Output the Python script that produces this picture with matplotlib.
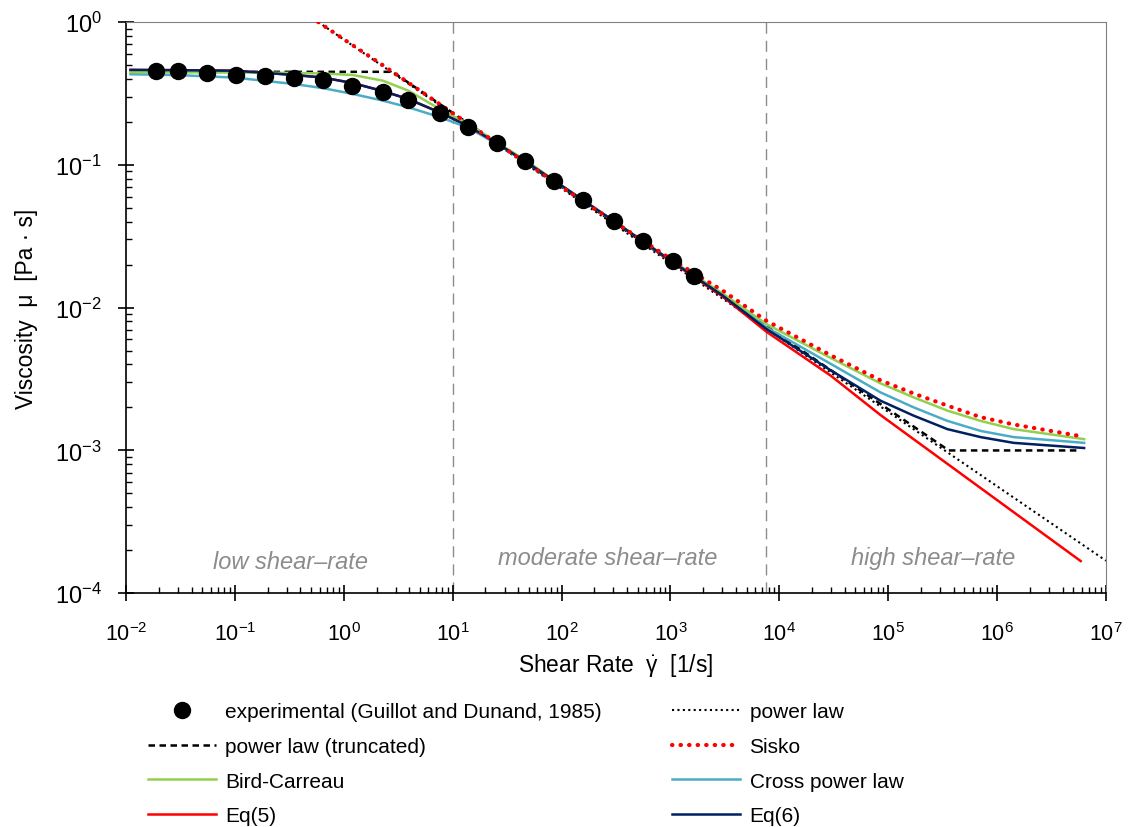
import numpy as np
import matplotlib
matplotlib.use('Agg')
import matplotlib.pyplot as plt
from matplotlib.ticker import LogLocator, NullFormatter, FixedLocator

plt.rcParams['font.family'] = ['Liberation Sans', 'DejaVu Sans']
plt.rcParams['mathtext.fontset'] = 'custom'
plt.rcParams['mathtext.rm'] = 'Liberation Sans'
plt.rcParams['mathtext.it'] = 'Liberation Sans'

# experimental data (Guillot and Dunand, 1985)
exp_rate = [0.019, 0.030, 0.0556, 0.103, 0.189, 0.349, 0.649, 1.20, 2.27, 3.90,
            7.63, 13.9, 25.4, 46.1, 85.5, 159, 305, 563, 1054, 1652]
exp_visc = [0.456, 0.456, 0.442, 0.428, 0.419, 0.404, 0.393, 0.358, 0.322, 0.286,
            0.230, 0.184, 0.142, 0.107, 0.0773, 0.0566, 0.0406, 0.0291, 0.0212, 0.0167]

# model curves
model_rate = [0.011, 0.03, 0.1, 0.35, 0.65, 1.2, 2.27, 3.9, 7.6, 13.9, 25, 50, 100,
              300, 1000, 3000, 7620, 2.95e4, 8.5e4, 1.72e5, 3.5e5, 7.06e5, 1.42e6, 6.3e6]
eq6_visc = [0.462, 0.460, 0.456, 0.426, 0.408, 0.374, 0.329, 0.289, 0.233, 0.187, 0.143,
            0.102, 0.0715, 0.0405, 0.0214, 0.0122, 7.08e-3, 3.65e-3, 2.23e-3, 1.75e-3,
            1.41e-3, 1.24e-3, 1.13e-3, 1.04e-3]
cross_visc = [0.431, 0.425, 0.408, 0.368, 0.344, 0.314, 0.282, 0.253, 0.216, 0.182, 0.141,
              0.102, 0.0715, 0.0405, 0.0215, 0.0124, 7.28e-3, 4.05e-3, 2.55e-3, 2.0e-3,
              1.61e-3, 1.37e-3, 1.24e-3, 1.13e-3]
bc_visc = [0.445, 0.445, 0.443, 0.440, 0.436, 0.426, 0.389, 0.331, 0.246, 0.194, 0.145,
           0.104, 0.0715, 0.0405, 0.0216, 0.0126, 7.67e-3, 4.45e-3, 2.95e-3, 2.35e-3,
           1.90e-3, 1.61e-3, 1.41e-3, 1.20e-3]

eq5_rate = [0.011, 0.03, 0.1, 0.35, 0.65, 1.2, 2.27, 3.9, 7.6, 13.9, 25, 50, 100,
            300, 1000, 3000, 7620, 2.95e4, 8.5e4, 5.86e6]
eq5_visc = [0.462, 0.460, 0.456, 0.426, 0.408, 0.374, 0.329, 0.289, 0.233, 0.187, 0.143,
            0.102, 0.0715, 0.0405, 0.0212, 0.0120, 6.78e-3, 3.35e-3, 1.77e-3, 1.68e-4]

sisko_rate = [0.582, 1.2, 2.27, 3.9, 7.6, 13.9, 25, 50, 100, 300, 1000, 3000, 7620,
              2.95e4, 8.5e4, 1.72e5, 3.5e5, 7.06e5, 1.42e6, 5.5e6]
sisko_visc = [1.0, 0.69, 0.50, 0.377, 0.266, 0.194, 0.143, 0.100, 0.070, 0.0402,
              0.0220, 0.0132, 8.09e-3, 4.65e-3, 3.1e-3, 2.5e-3, 2.06e-3, 1.71e-3,
              1.52e-3, 1.27e-3]

pl_rate = [0.582, 1e7]
pl_visc = [1.0, 1.69e-4]

trunc_rate = [0.011, 2.8, 3.6e5, 5.66e6]
trunc_visc = [0.448, 0.448, 1e-3, 1e-3]

region_bounds = [10, 7500]
region_names = ['low shear\u2013rate', 'moderate shear\u2013rate', 'high shear\u2013rate']
region_x = [0.321, 264, 2.56e5]
region_y = [1.5e-4, 1.6e-4, 1.6e-4]

x_ticks = [1e-2, 1e-1, 1e0, 1e1, 1e2, 1e3, 1e4, 1e5, 1e6, 1e7]
y_ticks = [1e-4, 1e-3, 1e-2, 1e-1, 1e0]

fig = plt.figure(figsize=(11.29, 8.28), dpi=100)
ax = fig.add_axes([0.1116, 0.2823, 0.868, 0.6899])

for xb in region_bounds:
    ax.axvline(xb, color='#8c8c8c', lw=1.0, ls=(0, (8, 5)), zorder=1)

l_pl, = ax.plot(pl_rate, pl_visc, color='black', lw=1.5, ls=(0, (1, 1.6)), zorder=2)
l_plt, = ax.plot(trunc_rate, trunc_visc, color='black', lw=1.8, ls=(0, (2.6, 1.8)), zorder=3)
l_sisko, = ax.plot(sisko_rate, sisko_visc, color='#ff0000', lw=3.0, ls=(0, (0.1, 1.95)),
                   dash_capstyle='round', zorder=6)
l_bc, = ax.plot(model_rate, bc_visc, color='#92d050', lw=1.8, zorder=5)
l_cross, = ax.plot(model_rate, cross_visc, color='#4bacc6', lw=1.8, zorder=4)
l_eq5, = ax.plot(eq5_rate, eq5_visc, color='#ff0000', lw=1.8, zorder=3.5)
l_eq6, = ax.plot(model_rate, eq6_visc, color='#002060', lw=1.8, zorder=5.5)
l_exp, = ax.plot(exp_rate, exp_visc, 'o', color='black', ms=11.5, ls='none', zorder=7)

ax.set_xscale('log')
ax.set_yscale('log')
ax.set_xlim(1e-2, 1e7)
ax.set_ylim(1e-4, 1e0)

ax.xaxis.set_major_locator(FixedLocator(x_ticks))
ax.xaxis.set_minor_locator(LogLocator(base=10, subs=np.arange(2, 10), numticks=100))
ax.xaxis.set_minor_formatter(NullFormatter())
ax.yaxis.set_major_locator(FixedLocator(y_ticks))
ax.yaxis.set_minor_locator(LogLocator(base=10, subs=np.arange(2, 10), numticks=100))
ax.yaxis.set_minor_formatter(NullFormatter())

ax.tick_params(which='major', direction='inout', length=11, width=1.2,
               top=False, right=False)
ax.tick_params(axis='x', which='major', labelsize=15.5, pad=15)
ax.tick_params(axis='y', which='major', labelsize=17, pad=12)
ax.tick_params(which='minor', direction='in', length=4.5, width=1.0, top=False, right=False)

ax.spines['top'].set_color('#808080')
ax.spines['right'].set_color('#808080')
for s in ['left', 'bottom']:
    ax.spines[s].set_linewidth(1.2)

for name, xr, yr in zip(region_names, region_x, region_y):
    ax.text(xr, yr, name, ha='center', va='baseline', fontsize=17, style='italic',
            color='#8c8c8c')

ax.set_xlabel(r'Shear Rate  $\dot{\gamma}$  [1/s]', fontsize=16.4, labelpad=4.5)
ax.set_ylabel('Viscosity  \u03bc  [Pa \u00b7 s]', fontsize=16.4, labelpad=12)

handles = [l_exp, l_plt, l_bc, l_eq5, l_pl, l_sisko, l_cross, l_eq6]
labels = ['experimental (Guillot and Dunand, 1985)', 'power law (truncated)', 'Bird-Carreau',
          'Eq(5)', 'power law', 'Sisko', 'Cross power law', 'Eq(6)']
fig.legend(handles, labels, loc='upper left', bbox_to_anchor=(0.131, 0.151), ncol=2,
           frameon=False, fontsize=15, handlelength=3.25, handletextpad=0.45,
           columnspacing=3.4, labelspacing=0.76, numpoints=1, borderpad=0,
           borderaxespad=0)

fig.savefig('out.png', dpi=100)
